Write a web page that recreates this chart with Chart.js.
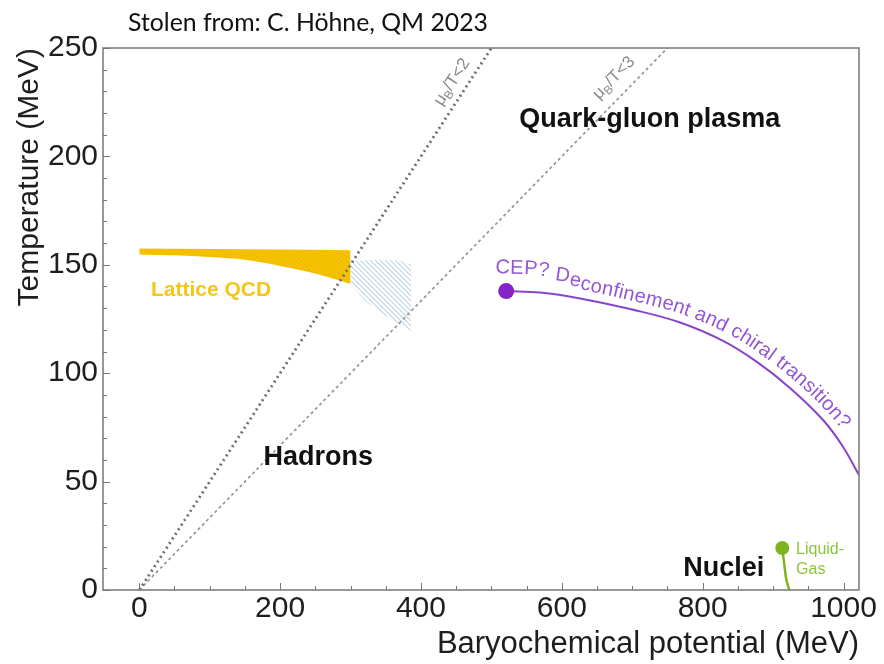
<!DOCTYPE html>
<html>
<head>
<meta charset="utf-8">
<script src="https://cdn.jsdelivr.net/npm/chart.js@4"></script>
<style>
  html, body { margin: 0; padding: 0; background: #ffffff; }
  canvas { display: block; }
</style>
</head>
<body>
<canvas id="phase" width="884" height="664"></canvas>
<script>
// ---- axis ticks (MeV) ----
const xTicks = [0, 200, 400, 600, 800, 1000];
const yTicks = [0, 50, 100, 150, 200, 250];
const xMinorStep = 50;
const yMinorStep = 10;

// ---- constant mu_B/T lines, endpoints (mu_B, T) ----
const muOverT2 = [{x: 0, y: 0}, {x: 500, y: 250}];
const muOverT3 = [{x: 0, y: 0}, {x: 750, y: 250}];

// ---- lattice QCD crossover band ----
const latticeUpper = [
  {x: 0, y: 157.5}, {x: 100, y: 157.3}, {x: 200, y: 157.0}, {x: 300, y: 156.7}
];
const latticeLower = [
  {x: 0, y: 154.8}, {x: 50, y: 154.4}, {x: 100, y: 153.6}, {x: 150, y: 152.3},
  {x: 200, y: 149.5}, {x: 250, y: 146.0}, {x: 300, y: 141.2}
];

// ---- extrapolated crossover region ----
const extrapUpper = [
  {x: 300, y: 151.5}, {x: 330, y: 152.2}, {x: 360, y: 152.0}, {x: 376, y: 151.5}, {x: 386, y: 150.0}
];
const extrapLower = [
  {x: 300, y: 141.0}, {x: 320, y: 133.8}, {x: 342, y: 128.2}, {x: 363, y: 123.6}, {x: 386, y: 119.5}
];

// ---- deconfinement / chiral transition line and critical end point ----
const transitionLine = [
  {x: 521, y: 137.9}, {x: 569, y: 137.2}, {x: 626, y: 134.5}, {x: 697, y: 129.6},
  {x: 768, y: 123.4}, {x: 829, y: 114.9}, {x: 877, y: 105.2}, {x: 924, y: 93.2},
  {x: 971, y: 78.4}, {x: 999, y: 66.2}, {x: 1022, y: 53.0}
];
const cepPoint = [{x: 521, y: 137.9}];

// ---- nuclear liquid-gas transition ----
const liquidGasLine = [
  {x: 913, y: 19.4}, {x: 916, y: 11.5}, {x: 918.4, y: 5.5}, {x: 923, y: 0}
];
const liquidGasPoint = [{x: 913, y: 19.4}];

// ---- colours ----
const PURPLE_LINE = '#8a43cc';
const PURPLE_DOT = '#8722c8';
const PURPLE_TEXT = '#9457d3';
const GREEN_LINE = '#7fb51c';
const GREEN_TEXT = '#8cc43e';
const GOLD = '#f6c200';
const GOLD_TEXT = '#f5c518';
const AXIS = '#777777';
const INK = '#1e1e1e';
const FONT = '"Liberation Sans", Arial, sans-serif';

// diagonal hatch fills
function hatch(bg, fg, size, width) {
  const c = document.createElement('canvas');
  c.width = size; c.height = size;
  const g = c.getContext('2d');
  if (bg) { g.fillStyle = bg; g.fillRect(0, 0, size, size); }
  g.strokeStyle = fg; g.lineWidth = width;
  for (const off of [-size, 0, size]) {
    g.beginPath();
    g.moveTo(-1, -1 + off);
    g.lineTo(size + 1, size + 1 + off);
    g.stroke();
  }
  return g.createPattern(c, 'repeat');
}
const goldFill = hatch(GOLD, '#edb700', 5, 1);
const blueFill = hatch(null, '#bcd3e7', 5, 1.1);

// text that annotates regions of the diagram
const regionLabels = [
  {text: 'Quark-gluon plasma', x: 725, y: 216.8, font: 'bold 27px ' + FONT, color: '#111111', align: 'center'},
  {text: 'Hadrons', x: 254, y: 61, font: 'bold 27px ' + FONT, color: '#111111', align: 'center'},
  {text: 'Nuclei', x: 830, y: 10.1, font: 'bold 27px ' + FONT, color: '#111111', align: 'center'},
  {text: 'Lattice QCD', x: 102, y: 138.4, font: 'bold 21px ' + FONT, color: GOLD_TEXT, align: 'center'},
  {text: 'Liquid-', x: 932.6, y: 18.5, font: '16px ' + FONT, color: GREEN_TEXT, align: 'left'},
  {text: 'Gas', x: 932.6, y: 9.2, font: '16px ' + FONT, color: GREEN_TEXT, align: 'left'}
];
// labels written along the constant mu_B/T lines
const ratioLabels = [
  {bound: '/T<2', x: 444, y: 234.3, line: 0},
  {bound: '/T<3', x: 674, y: 236.2, line: 1}
];
const transitionText = 'CEP? Deconfinement and chiral transition?';

// sample the drawn (bezier) path of a line dataset into a polyline
function samplePath(meta) {
  const pts = meta.data, out = [];
  for (let i = 0; i < pts.length - 1; i++) {
    const p = pts[i], q = pts[i + 1];
    const c1x = p.cp2x ?? p.x, c1y = p.cp2y ?? p.y;
    const c2x = q.cp1x ?? q.x, c2y = q.cp1y ?? q.y;
    const n = 30;
    for (let k = 0; k < n; k++) {
      const t = k / n, u = 1 - t;
      out.push({
        x: u*u*u*p.x + 3*u*u*t*c1x + 3*u*t*t*c2x + t*t*t*q.x,
        y: u*u*u*p.y + 3*u*u*t*c1y + 3*u*t*t*c2y + t*t*t*q.y
      });
    }
  }
  const last = pts[pts.length - 1];
  out.push({x: last.x, y: last.y});
  return out;
}

function offsetPath(poly, d) {
  const out = [];
  for (let i = 0; i < poly.length; i++) {
    const a = poly[Math.max(0, i - 1)], b = poly[Math.min(poly.length - 1, i + 1)];
    const dx = b.x - a.x, dy = b.y - a.y, L = Math.hypot(dx, dy) || 1;
    out.push({x: poly[i].x + dy / L * d, y: poly[i].y - dx / L * d});
  }
  return out;
}

function pathWalker(poly) {
  const cum = [0];
  for (let i = 1; i < poly.length; i++) {
    cum.push(cum[i - 1] + Math.hypot(poly[i].x - poly[i - 1].x, poly[i].y - poly[i - 1].y));
  }
  return function (s) {
    let i = 0;
    if (s <= 0) i = 0;
    else if (s >= cum[cum.length - 1]) i = poly.length - 2;
    else { while (cum[i + 1] < s) i++; }
    const a = poly[i], b = poly[i + 1];
    const seg = (cum[i + 1] - cum[i]) || 1;
    const t = (s - cum[i]) / seg;
    return {x: a.x + (b.x - a.x) * t, y: a.y + (b.y - a.y) * t, ang: Math.atan2(b.y - a.y, b.x - a.x)};
  };
}

const decorations = {
  id: 'decorations',
  beforeDraw(chart) {
    const {ctx} = chart;
    ctx.save();
    const txt = 'Stolen from: C. Höhne, QM 2023';
    ctx.font = '24px Lato, "Open Sans", sans-serif';
    const w = ctx.measureText(txt).width;
    const size = 24 * 360 / w;
    ctx.font = size.toFixed(2) + 'px Lato, "Open Sans", sans-serif';
    ctx.fillStyle = '#111111';
    ctx.textAlign = 'left';
    ctx.textBaseline = 'alphabetic';
    ctx.fillText(txt, 128, 31);
    ctx.restore();
  },
  afterDatasetsDraw(chart) {
    const {ctx, chartArea: a, scales: {x, y}} = chart;
    ctx.save();

    // frame
    ctx.strokeStyle = AXIS;
    ctx.lineWidth = 1.5;
    ctx.strokeRect(a.left, a.top, a.right - a.left, a.bottom - a.top);

    // inward tick marks on the left and bottom axes
    ctx.lineWidth = 1;
    ctx.beginPath();
    for (let v = 0; v <= 1000; v += xMinorStep) {
      const px = Math.round(x.getPixelForValue(v)) + 0.5;
      const len = xTicks.includes(v) ? 7 : 4;
      ctx.moveTo(px, a.bottom); ctx.lineTo(px, a.bottom - len);
    }
    for (let v = 0; v <= 250; v += yMinorStep) {
      const py = Math.round(y.getPixelForValue(v)) + 0.5;
      const len = yTicks.includes(v) ? 7 : 4;
      ctx.moveTo(a.left, py); ctx.lineTo(a.left + len, py);
    }
    ctx.stroke();

    // region labels
    ctx.textBaseline = 'middle';
    for (const l of regionLabels) {
      ctx.font = l.font;
      ctx.fillStyle = l.color;
      ctx.textAlign = l.align;
      ctx.fillText(l.text, x.getPixelForValue(l.x), y.getPixelForValue(l.y));
    }

    // mu_B/T labels, rotated along their lines
    const lines = [muOverT2, muOverT3];
    for (const l of ratioLabels) {
      const ln = lines[l.line];
      const ang = Math.atan2(
        y.getPixelForValue(ln[1].y) - y.getPixelForValue(ln[0].y),
        x.getPixelForValue(ln[1].x) - x.getPixelForValue(ln[0].x));
      const parts = [
        {t: 'μ', f: '17px ' + FONT, dy: 0},
        {t: 'B', f: '12px ' + FONT, dy: 5},
        {t: l.bound, f: '17px ' + FONT, dy: 0}
      ];
      let total = 0;
      for (const p of parts) { ctx.font = p.f; p.w = ctx.measureText(p.t).width; total += p.w; }
      ctx.save();
      ctx.translate(x.getPixelForValue(l.x), y.getPixelForValue(l.y));
      ctx.rotate(ang);
      ctx.fillStyle = '#8a8a8a';
      ctx.textAlign = 'left';
      ctx.textBaseline = 'middle';
      let cx = -total / 2;
      for (const p of parts) { ctx.font = p.f; ctx.fillText(p.t, cx, p.dy); cx += p.w; }
      ctx.restore();
    }

    // transition label following the purple curve
    const meta = chart.getDatasetMeta(6);
    const base = samplePath(meta);
    const p0 = base[0], p1 = base[3];
    const L0 = Math.hypot(p1.x - p0.x, p1.y - p0.y);
    base.unshift({x: p0.x - (p1.x - p0.x) / L0 * 40, y: p0.y - (p1.y - p0.y) / L0 * 40});
    const path = offsetPath(base, 14);
    const walk = pathWalker(path);
    ctx.font = '20px ' + FONT;
    ctx.fillStyle = PURPLE_TEXT;
    ctx.textAlign = 'center';
    ctx.textBaseline = 'middle';
    let s = 40 - 12;
    const s0 = s;
    for (const ch of transitionText) {
      const w = ctx.measureText(ch).width * 1.035;
      const m = walk(s + w / 2);
      const lift = 9 * Math.max(0, Math.min(1, 1 - (s - s0 - 40) / 50));
      ctx.save();
      ctx.translate(m.x + Math.sin(m.ang) * lift, m.y - Math.cos(m.ang) * lift);
      ctx.rotate(m.ang);
      ctx.fillText(ch, 0, 0);
      ctx.restore();
      s += w;
    }
    ctx.restore();
  }
};

const noLine = 'rgba(0,0,0,0)';

new Chart(document.getElementById('phase'), {
  type: 'line',
  data: {
    datasets: [
      {label: 'mu_B/T = 2', data: muOverT2, borderColor: '#6e6e6e', borderWidth: 2.8,
       borderDash: [2, 3.5], pointRadius: 0, fill: false, order: 1},
      {label: 'mu_B/T = 3', data: muOverT3, borderColor: '#959595', borderWidth: 1.7,
       borderDash: [3, 3], pointRadius: 0, fill: false, order: 1},
      {label: 'Lattice QCD', data: latticeUpper, borderColor: noLine, borderWidth: 1,
       backgroundColor: goldFill, fill: '+1', pointRadius: 0, cubicInterpolationMode: 'monotone', order: 4},
      {label: 'Lattice QCD lower', data: latticeLower, borderColor: noLine, borderWidth: 1,
       pointRadius: 0, fill: false, cubicInterpolationMode: 'monotone', order: 4},
      {label: 'Extrapolation', data: extrapUpper, borderColor: noLine, borderWidth: 1,
       backgroundColor: blueFill, fill: '+1', pointRadius: 0, cubicInterpolationMode: 'monotone', order: 4},
      {label: 'Extrapolation lower', data: extrapLower, borderColor: noLine, borderWidth: 1,
       pointRadius: 0, fill: false, cubicInterpolationMode: 'monotone', order: 4},
      {label: 'Transition', data: transitionLine, borderColor: PURPLE_LINE, borderWidth: 2,
       pointRadius: 0, fill: false, tension: 0.4, order: 2},
      {label: 'CEP', data: cepPoint, showLine: false, pointRadius: 8, pointBorderWidth: 0,
       pointBackgroundColor: PURPLE_DOT, order: 0},
      {label: 'Liquid-gas', data: liquidGasLine, borderColor: GREEN_LINE, borderWidth: 2.5,
       pointRadius: 0, fill: false, cubicInterpolationMode: 'monotone', order: 2},
      {label: 'Liquid-gas CEP', data: liquidGasPoint, showLine: false, pointRadius: 7,
       pointBorderWidth: 0, pointBackgroundColor: GREEN_LINE, order: 0}
    ]
  },
  options: {
    responsive: false,
    animation: false,
    devicePixelRatio: 1,
    events: [],
    layout: {padding: {top: 48, right: 25, left: 0, bottom: 0}},
    plugins: {legend: {display: false}, tooltip: {enabled: false}, title: {display: false}},
    scales: {
      x: {
        type: 'linear', min: -51.5, max: 1022,
        grid: {display: false, drawTicks: false},
        border: {display: false},
        ticks: {font: {size: 30, family: FONT}, color: INK, padding: 1, maxRotation: 0,
                autoSkip: false, callback: v => String(v)},
        afterBuildTicks: s => { s.ticks = xTicks.map(v => ({value: v})); },
        afterFit: s => { s.height = 74; s.paddingLeft = 0; s.paddingRight = 0; },
        title: {display: true, text: 'Baryochemical potential (MeV)', align: 'end',
                font: {size: 31, family: FONT}, color: INK, padding: {top: 0, bottom: 1}}
      },
      y: {
        type: 'linear', min: 0, max: 250,
        grid: {display: false, drawTicks: false},
        border: {display: false},
        ticks: {font: {size: 30, family: FONT}, color: INK, padding: 5, autoSkip: false,
                callback: v => String(v)},
        afterBuildTicks: s => { s.ticks = yTicks.map(v => ({value: v})); },
        afterFit: s => { s.width = 103; s.paddingTop = 0; s.paddingBottom = 0; },
        title: {display: true, text: 'Temperature (MeV)', align: 'end',
                font: {size: 30, family: FONT}, color: INK, padding: {top: 12, bottom: 0}}
      }
    }
  },
  plugins: [decorations]
});
</script>
</body>
</html>
